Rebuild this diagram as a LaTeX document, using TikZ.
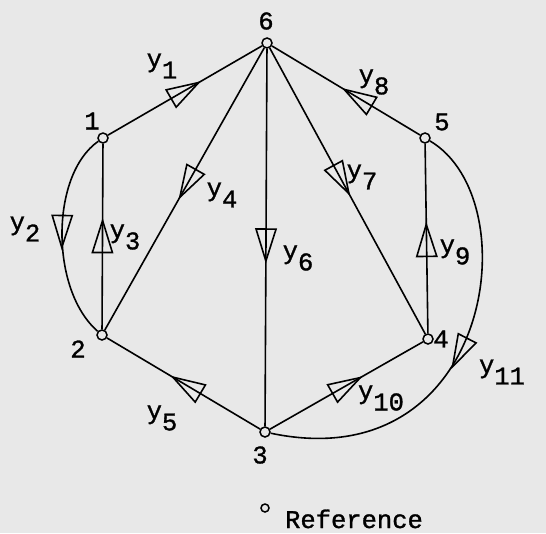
\documentclass[tikz,border=0pt]{standalone}
\usepackage{fontspec}
\setmainfont[FakeBold=1.2]{Liberation Mono}
\usetikzlibrary{decorations.markings}
\definecolor{paper}{gray}{0.91}
\tikzset{
  vertex/.style={draw,circle,fill=paper,inner sep=0pt,minimum size=10pt,line width=1.5pt},
  flow/.style={postaction={decorate},decoration={markings,
    mark=at position #1 with {\draw[line width=1.6pt] (-16pt,-10pt) -- (16pt,0pt) -- (-16pt,10pt) -- cycle;}}},
  flow/.default=0.5
}
\newcommand{\yl}[1]{y\raisebox{-0.45em}{#1}}

\begin{document}
\begin{tikzpicture}[x=1pt,y=-1pt,line width=1.6pt,font=\fontsize{25.5}{30}\selectfont]
        \fill[paper] (0,0) rectangle (546,533);
        \useasboundingbox (0,0) rectangle (546,533);
        % vertices
        \node[vertex] (n6) at (267,43) {};
        \node[vertex] (n1) at (103,138) {};
        \node[vertex] (n5) at (425,138) {};
        \node[vertex] (n2) at (102,335) {};
        \node[vertex] (n4) at (428,339) {};
        \node[vertex] (n3) at (265,432) {};
        \node (t6) at (266,21) {6};
        \node (t1) at (92,121) {1};
        \node (t5) at (442,122) {5};
        \node (t2) at (78,349) {2};
        \node (t4) at (441,339) {4};
        \node (t3) at (260,455) {3};
        % branches
        \draw[flow=0.5] (n1) -- (n6);
        \draw[flow=0.48] (n1) .. controls (50,175) and (50,290) .. (n2);
        \draw[flow=0.5] (n2) -- (n1);
        \draw[flow=0.48] (n6) -- (n2);
        \draw[flow=0.48] (n3) -- (n2);
        \draw[flow=0.52] (n6) -- (n3);
        \draw[flow=0.46] (n6) -- (n4);
        \draw[flow=0.42] (n5) -- (n6);
        \draw[flow=0.49] (n4) -- (n5);
        \draw[flow=0.5] (n3) -- (n4);
        \draw[flow=0.51] (n5) .. controls (530,200) and (492,480) .. (n3);
        % branch labels
        \node (ly1) at (162,66) {\yl{1}};
        \node (ly2) at (25,229) {\yl{2}};
        \node (ly3) at (125,237) {\yl{3}};
        \node (ly4) at (222,195) {\yl{4}};
        \node (ly5) at (162,418) {\yl{5}};
        \node (ly6) at (298,258) {\yl{6}};
        \node (ly7) at (362,177) {\yl{7}};
        \node (ly8) at (374,82) {\yl{8}};
        \node (ly9) at (455,252) {\yl{9}};
        \node (ly10) at (381,398) {\yl{10}};
        \node (ly11) at (502,372) {\yl{11}};
        % reference
        \node[vertex,minimum size=8pt] (ref) at (265,508) {};
        \node[anchor=base west] (reftext) at (281,528) {Reference};
\end{tikzpicture}
\end{document}
